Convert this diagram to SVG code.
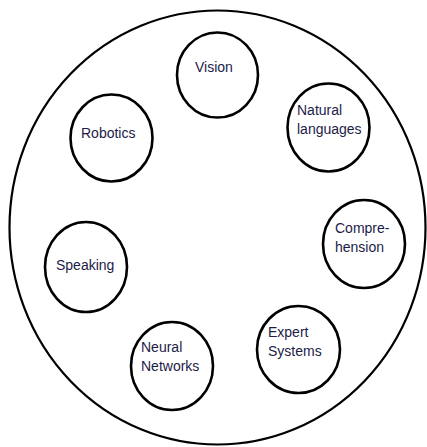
<svg xmlns="http://www.w3.org/2000/svg" width="427" height="447" viewBox="0 0 427 447">
<style>
.n{fill:#fff;stroke:#000;stroke-width:2.6}
.t{font-family:"Liberation Sans",Arial,sans-serif;font-size:14px;fill:#1c1c48}
.o{fill:#fff;stroke:#000;stroke-width:2.2}
</style>
<rect width="427" height="447" fill="#fff"/>
<g id="outer"><ellipse class="o" cx="217.5" cy="227.5" rx="208" ry="217"/></g>
<g id="connectors"></g>
<g id="vision"><ellipse class="n" cx="217.5" cy="75" rx="40.5" ry="42.5"/><text class="t" x="195" y="72">Vision</text></g>
<g id="natural"><ellipse class="n" cx="328.5" cy="127.5" rx="41" ry="44"/><text class="t" x="297" y="115">Natural</text><text class="t" x="297" y="134">languages</text></g>
<g id="robotics"><ellipse class="n" cx="111.5" cy="138" rx="41" ry="43.5"/><text class="t" x="81" y="138">Robotics</text></g>
<g id="comprehension"><ellipse class="n" cx="364" cy="244" rx="41" ry="44"/><text class="t" x="335" y="233">Compre-</text><text class="t" x="335" y="252">hension</text></g>
<g id="speaking"><ellipse class="n" cx="86" cy="267" rx="41" ry="45"/><text class="t" x="56" y="270">Speaking</text></g>
<g id="expert"><ellipse class="n" cx="298.5" cy="349.5" rx="41.5" ry="43.5"/><text class="t" x="268" y="337">Expert</text><text class="t" x="268" y="356">Systems</text></g>
<g id="neural"><ellipse class="n" cx="172" cy="366" rx="41" ry="44"/><text class="t" x="141" y="352">Neural</text><text class="t" x="141" y="371">Networks</text></g>
</svg>
